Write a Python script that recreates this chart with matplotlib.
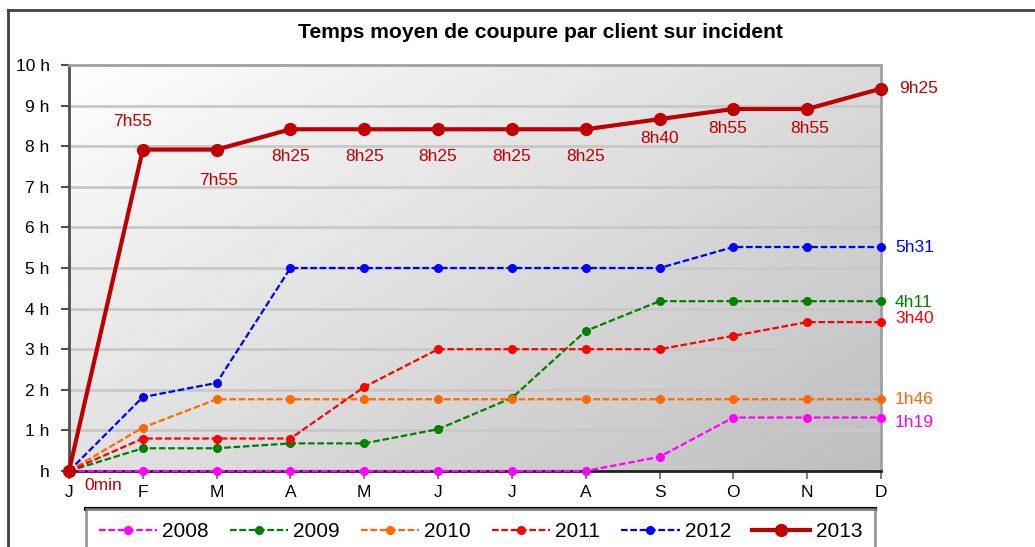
import numpy as np
import matplotlib.pyplot as plt
from matplotlib.lines import Line2D

plt.rcParams['font.family'] = ['Liberation Sans', 'DejaVu Sans']

months = ['J', 'F', 'M', 'A', 'M', 'J', 'J', 'A', 'S', 'O', 'N', 'D']
y2008 = [0, 0, 0, 0, 0, 0, 0, 0, 0.35, 1.317, 1.317, 1.317]
y2009 = [0, 0.56, 0.56, 0.68, 0.68, 1.03, 1.8, 3.45, 4.183, 4.183, 4.183, 4.183]
y2010 = [0, 1.07, 1.767, 1.767, 1.767, 1.767, 1.767, 1.767, 1.767, 1.767, 1.767, 1.767]
y2011 = [0, 0.8, 0.8, 0.8, 2.07, 3.0, 3.0, 3.0, 3.0, 3.33, 3.667, 3.667]
y2012 = [0, 1.82, 2.17, 5.0, 5.0, 5.0, 5.0, 5.0, 5.0, 5.517, 5.517, 5.517]
y2013 = [0, 7.917, 7.917, 8.417, 8.417, 8.417, 8.417, 8.417, 8.667, 8.917, 8.917, 9.417]
labels2013 = ['0min', '7h55', '7h55', '8h25', '8h25', '8h25', '8h25', '8h25',
              '8h40', '8h55', '8h55', '9h25']
end_labels = {'2012': '5h31', '2009': '4h11', '2011': '3h40', '2010': '1h46', '2008': '1h19'}
yticks = ['h'] + [f'{i} h' for i in range(1, 11)]

W, H = 1035, 547
fig = plt.figure(figsize=(W / 100, H / 100), dpi=100)
ax = fig.add_axes([69 / W, 1 - 471 / H, (881 - 69) / W, (471 - 65) / H])

# gradient background, light top-left -> grey bottom-right
gx, gy = np.meshgrid(np.linspace(0, 1, 200), np.linspace(0, 1, 200))
g = 0.995 - 0.25 * (0.55 * gx + 0.45 * gy)
ax.imshow(g, cmap='gray', vmin=0, vmax=1, extent=[0, 11, 0, 10], origin='upper',
          aspect='auto', zorder=0, interpolation='bilinear')

x = np.arange(len(months))
for yv in range(1, 10):
    ax.axhline(yv, color='#c8c8c8', lw=2, zorder=1)

dash = (3, 1.2)
series = [
    ('2008', y2008, '#ff00ff'),
    ('2009', y2009, '#008000'),
    ('2010', y2010, '#ff6a00'),
    ('2011', y2011, '#ff0000'),
    ('2012', y2012, '#0000ff'),
]
handles = []
for name, ys, c in series:
    h, = ax.plot(x, ys, color=c, lw=1.6, ls=(0, dash), marker='o', ms=5.5,
                 label=name, zorder=3, clip_on=False)
    handles.append(h)
h13, = ax.plot(x, y2013, color='#c00000', lw=3, marker='o', ms=8.5,
               label='2013', zorder=4, clip_on=False)
handles.append(h13)

# 2013 labels
offsets = [(34, -14), (-10, 28), (2, -31), (0, -27), (0, -27), (0, -27), (0, -27),
           (0, -27), (0, -19), (-6, -20), (3, -20), (38, 0)]
for i, (lab, off) in enumerate(zip(labels2013, offsets)):
    ax.annotate(lab, (x[i], y2013[i]), xytext=off, textcoords='offset pixels',
                ha='center', va='center', color='#c00000', fontsize=12.5,
                annotation_clip=False)

end_colors = {n: c for n, _, c in series}
end_vals = {n: ys[-1] for n, ys, _ in series}
end_dy = {'2012': 0, '2009': -1, '2011': 4, '2010': 0, '2008': -5}
for n, lab in end_labels.items():
    ax.annotate(lab, (11, end_vals[n]), xytext=(14, end_dy[n]), textcoords='offset pixels',
                ha='left', va='center', color=end_colors[n], fontsize=12.5,
                annotation_clip=False)

ax.set_xlim(0, 11)
ax.set_ylim(0, 10)
ax.set_xticks(x)
ax.set_xticklabels(months, fontsize=12.5)
ax.set_yticks(range(11))
ax.set_yticklabels(yticks, fontsize=12.5)
ax.tick_params(axis='y', direction='out', length=6, width=1.5, color='#505050', pad=8)
ax.tick_params(axis='x', direction='out', length=6, width=1.5, color='#808080', pad=4)
for s in ['top', 'right']:
    ax.spines[s].set_color('#a0a0a0')
    ax.spines[s].set_linewidth(2)
ax.spines['left'].set_color('#505050')
ax.spines['left'].set_linewidth(2)
ax.spines['bottom'].set_color('#202020')
ax.spines['bottom'].set_linewidth(2)

fig.text(540 / W, 1 - 33 / H, 'Temps moyen de coupure par client sur incident',
         ha='center', va='center', fontsize=15.2, fontweight='bold')

# outer frame
fig.add_artist(Line2D([8 / W, 1], [1 - 10 / H, 1 - 10 / H], color='#404040', lw=2))
fig.add_artist(Line2D([8 / W, 8 / W], [0, 1 - 10 / H], color='#404040', lw=2))

leg = fig.legend(handles=handles, loc='upper left', ncol=6,
                 bbox_to_anchor=(86 / W, 1 - 509 / H), fontsize=15,
                 frameon=True, fancybox=False, handlelength=2.8, columnspacing=1.0,
                 borderpad=0.62, handletextpad=0.25, borderaxespad=0)
leg.get_frame().set_edgecolor('#808080')
leg.get_frame().set_linewidth(2)

# thick black top edge of the legend box
fig.canvas.draw()
bb = leg.get_window_extent().transformed(fig.transFigure.inverted())
fig.add_artist(Line2D([bb.x0, bb.x1], [bb.y1, bb.y1], color='black', lw=3))

fig.savefig('out.png', dpi=100)
